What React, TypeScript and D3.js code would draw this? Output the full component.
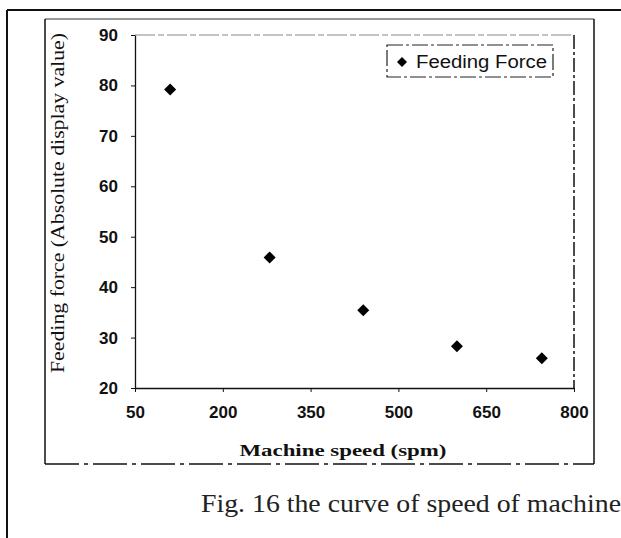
import * as d3 from "d3";
import React, { useEffect, useRef } from "react";

// machine speed (spm) vs feeding force readings
const speeds = [110, 280, 440, 600, 745];
const forces = [79.2, 45.9, 35.4, 28.3, 25.9];
const xTicks = [50, 200, 350, 500, 650, 800];
const yTicks = [20, 30, 40, 50, 60, 70, 80, 90];
const seriesName = "Feeding Force";
const xTitle = "Machine speed (spm)";
const yTitle = "Feeding force (Absolute display value)";
const caption = "Fig. 16 the curve of speed of machine";

const SANS = "Liberation Sans";
const SERIF = "Liberation Serif";

const App: React.FC = () => {
  const ref = useRef<SVGSVGElement | null>(null);

  useEffect(() => {
    if (!ref.current) return;
    d3.select(ref.current).selectAll("*").remove();

    const width = 621;
    const height = 538;
    const plot = { left: 135, right: 574, top: 35, bottom: 388 };

    const svg = d3
      .select(ref.current)
      .attr("width", width)
      .attr("height", height);

    svg.append("rect").attr("width", width).attr("height", height).attr("fill", "#fff");

    // outer page frame (only left and top are visible)
    svg.append("line").attr("x1", 7).attr("y1", 10).attr("x2", 7).attr("y2", height)
      .attr("stroke", "#111").attr("stroke-width", 2);
    svg.append("line").attr("x1", 7).attr("y1", 10).attr("x2", width).attr("y2", 10)
      .attr("stroke", "#111").attr("stroke-width", 2);

    // chart box
    const box = { l: 45, t: 19, r: 594, b: 464 };
    svg.append("line").attr("x1", box.l).attr("y1", box.t).attr("x2", box.r).attr("y2", box.t)
      .attr("stroke", "#333").attr("stroke-width", 1);
    svg.append("line").attr("x1", box.l).attr("y1", box.t).attr("x2", box.l).attr("y2", box.b)
      .attr("stroke", "#111").attr("stroke-width", 1.5);
    svg.append("line").attr("x1", box.r).attr("y1", box.t).attr("x2", box.r).attr("y2", box.b)
      .attr("stroke", "#111").attr("stroke-width", 1.5);
    svg.append("line").attr("x1", box.l).attr("y1", box.b).attr("x2", box.r).attr("y2", box.b)
      .attr("stroke", "#111").attr("stroke-width", 1.5).attr("stroke-dasharray", "34,5,4,5");

    const x = d3.scaleLinear().domain([50, 800]).range([plot.left, plot.right]);
    const y = d3.scaleLinear().domain([20, 90]).range([plot.bottom, plot.top]);

    // plot area top / right borders (dashed in the scan)
    svg.append("line").attr("x1", plot.left).attr("y1", plot.top).attr("x2", plot.right).attr("y2", plot.top)
      .attr("stroke", "#888").attr("stroke-width", 1).attr("stroke-dasharray", "20,3,6,3");
    svg.append("line").attr("x1", plot.right).attr("y1", plot.top).attr("x2", plot.right).attr("y2", plot.bottom)
      .attr("stroke", "#111").attr("stroke-width", 1.5).attr("stroke-dasharray", "14,3,3,3");

    // Y axis
    const yAxis = svg
      .append("g")
      .attr("transform", `translate(${plot.left},0)`)
      .call(d3.axisLeft(y).tickValues(yTicks).tickSize(4).tickSizeOuter(0).tickPadding(13));
    // X axis
    const xAxis = svg
      .append("g")
      .attr("transform", `translate(0,${plot.bottom})`)
      .call(d3.axisBottom(x).tickValues(xTicks).tickSize(4).tickSizeOuter(0).tickPadding(14));

    [yAxis, xAxis].forEach((g) => {
      g.attr("font-family", null).attr("font-size", null);
      g.select(".domain").attr("stroke", "#111").attr("stroke-width", 1.3);
      g.selectAll(".tick line").attr("stroke", "#111");
      g.selectAll(".tick text")
        .attr("fill", "#111")
        .style("font-family", SANS)
        .style("font-size", "17px")
        .style("font-weight", "bold");
    });

    // points
    const diamond = d3.symbol().type(d3.symbolSquare).size(72);
    svg
      .append("g")
      .selectAll("path")
      .data(speeds.map((s, i) => [s, forces[i]] as [number, number]))
      .join("path")
      .attr("d", diamond)
      .attr("transform", (d) => `translate(${x(d[0])},${y(d[1])}) rotate(45)`)
      .attr("fill", "#000");

    // legend
    const lg = svg.append("g").attr("transform", "translate(387,45)");
    lg.append("rect").attr("width", 166).attr("height", 32).attr("fill", "#fff")
      .attr("stroke", "#222").attr("stroke-width", 1.2).attr("stroke-dasharray", "16,3,3,3");
    lg.append("path").attr("d", d3.symbol().type(d3.symbolSquare).size(50)).attr("fill", "#000")
      .attr("transform", "translate(15,17) rotate(45)");
    lg.append("text").attr("x", 29).attr("y", 23)
      .style("font-family", SANS)
      .style("font-size", "18px").attr("fill", "#111")
      .attr("textLength", 131).attr("lengthAdjust", "spacingAndGlyphs")
      .text(seriesName);

    // axis titles
    svg.append("text")
      .attr("transform", "translate(64,203) rotate(-90)")
      .attr("text-anchor", "middle")
      .style("font-family", SERIF)
      .style("font-size", "18px").attr("fill", "#111")
      .attr("textLength", 340).attr("lengthAdjust", "spacingAndGlyphs")
      .text(yTitle);
    svg.append("text")
      .attr("x", 343).attr("y", 456)
      .attr("text-anchor", "middle")
      .style("font-family", SERIF)
      .style("font-size", "17px").attr("font-weight", "bold").attr("fill", "#111")
      .attr("textLength", 207).attr("lengthAdjust", "spacingAndGlyphs")
      .text(xTitle);

    // figure caption
    svg.append("text")
      .attr("x", 201).attr("y", 512)
      .style("font-family", SERIF)
      .style("font-size", "25px").attr("fill", "#222")
      .attr("textLength", 420).attr("lengthAdjust", "spacingAndGlyphs")
      .text(caption);
  }, []);

  return <svg ref={ref} style={{ position: "absolute", left: 0, top: 0, display: "block" }}></svg>;
};

export default App;
